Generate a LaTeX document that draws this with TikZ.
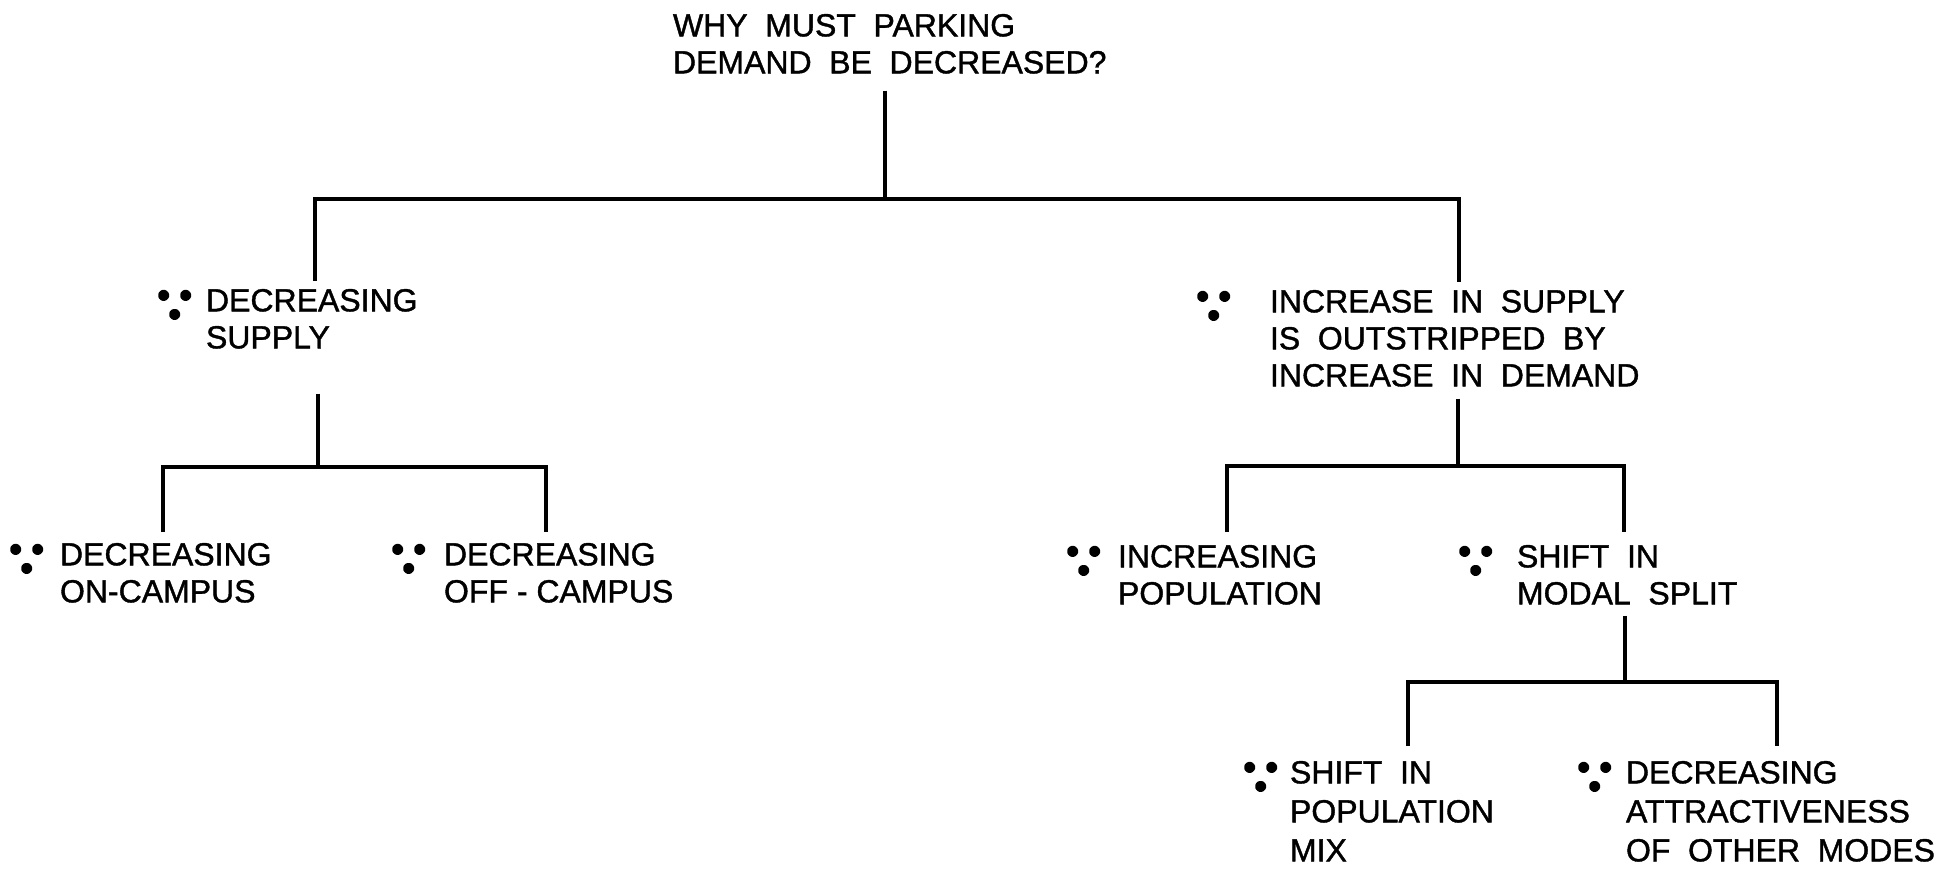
\documentclass[tikz,border=0pt]{standalone}
\usepackage{amssymb}
\usepackage{fontspec}
\setmainfont{Liberation Sans}[FakeBold=1.2]
\usetikzlibrary{calc}
\newcommand\ws{\hspace{0.55em}}
\newcommand\bec{\scalebox{2.2}{\special{pdf:literal direct 1 j 1.5 w 2 Tr}$\because$\special{pdf:literal direct 0 Tr}}}
\begin{document}
\begin{tikzpicture}[x=0.5pt,y=-0.5pt,
  lbl/.style={anchor=north west,inner sep=0pt,outer sep=0pt,align=left,
    font=\fontsize{16}{18.5}\selectfont},
  lblw/.style={lbl,font=\fontsize{16}{19.5}\selectfont},
  sym/.style={anchor=north west,inner sep=0pt,outer sep=0pt},
  tree/.style={line width=1.6pt}]
\useasboundingbox (0,0) rectangle (1954,872);
\fill[white] (0,0) rectangle (1954,872);
% labels
\node[lbl] (t) at (673,14) {WHY\ws MUST\ws PARKING\\DEMAND\ws BE\ws DECREASED?};
\node[lbl] (ds) at (206,289) {DECREASING\\SUPPLY};
\node[lbl] (inc) at (1270,290) {INCREASE\ws IN\ws SUPPLY\\IS\ws OUTSTRIPPED\ws BY\\INCREASE\ws IN\ws DEMAND};
\node[lbl] (on) at (60,543) {DECREASING\\ON-CAMPUS};
\node[lbl] (off) at (444,543) {DECREASING\\OFF - CAMPUS};
\node[lbl] (pop) at (1118,545) {INCREASING\\POPULATION};
\node[lbl] (modal) at (1517,545) {SHIFT\ws IN\\MODAL\ws SPLIT};
\node[lblw] (mix) at (1290,761) {SHIFT\ws IN\\POPULATION\\MIX};
\node[lblw] (attr) at (1626,761) {DECREASING\\ATTRACTIVENESS\\OF\ws OTHER\ws MODES};
% because symbols
\node[sym] (s1) at (160,283) {\bec};
\node[sym] (s2) at (1199,284) {\bec};
\node[sym] (s3) at (12,537) {\bec};
\node[sym] (s4) at (394,537) {\bec};
\node[sym] (s5) at (1069,539) {\bec};
\node[sym] (s6) at (1461,539) {\bec};
\node[sym] (s7) at (1246,755) {\bec};
\node[sym] (s8) at (1580,755) {\bec};
% junctions
\coordinate (b0) at (885,199);
\coordinate (bL) at (315,199);
\coordinate (bR) at (1459,199);
\coordinate (c0) at (318,467);
\coordinate (cL) at (163,467);
\coordinate (cR) at (546,467);
\coordinate (d0) at (1458,466);
\coordinate (dL) at (1227,466);
\coordinate (dR) at (1624,466);
\coordinate (e0) at (1625,682);
\coordinate (eL) at (1408,682);
\coordinate (eR) at (1777,682);
% connectors
\draw[tree] (t.south -| b0) ++(0,17) -- (b0);
\draw[tree] ($(ds.north -| bL)+(0,-8)$) -- (bL) -- (bR) -- ($(inc.north -| bR)+(0,-8)$);
\draw[tree] (ds.south -| c0) ++(0,45) -- (c0);
\draw[tree] ($(on.north -| cL)+(0,-11)$) -- (cL) -- (cR) -- ($(off.north -| cR)+(0,-11)$);
\draw[tree] (inc.south -| d0) ++(0,12) -- (d0);
\draw[tree] ($(pop.north -| dL)+(0,-13)$) -- (dL) -- (dR) -- ($(modal.north -| dR)+(0,-13)$);
\draw[tree] (modal.south -| e0) ++(0,11) -- (e0);
\draw[tree] ($(mix.north -| eL)+(0,-15)$) -- (eL) -- (eR) -- ($(attr.north -| eR)+(0,-15)$);
\end{tikzpicture}
\end{document}
